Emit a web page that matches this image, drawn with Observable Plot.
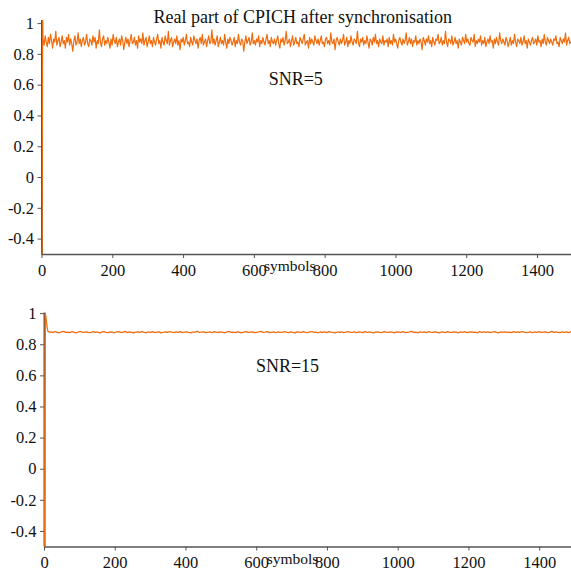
<!DOCTYPE html>
<html><head><meta charset="utf-8">
<script src="https://cdn.jsdelivr.net/npm/d3@7"></script>
<script src="https://cdn.jsdelivr.net/npm/@observablehq/plot@0.6"></script>
<style>
body{margin:0;background:#fff;}
#wrap{width:571px;}
#wrap svg{display:block;}
</style></head><body><div id="wrap"></div>
<script>
const title = "Real part of CPICH after synchronisation";
const xLabel = "symbols";
const snrLabels = ["SNR=5", "SNR=15"];
const xTicks = [0, 200, 400, 600, 800, 1000, 1200, 1400];
const yTicks = [-0.4, -0.2, 0, 0.2, 0.4, 0.6, 0.8, 1];

// SNR=5: start-up transient (symbol, value), then samples every 3 symbols from symbol 3
const transientTopX = [0, 1, 2];
const transientTopY = [-0.9, 0.2, 1.03];
const noiseTopStep = 3;
const noiseTop = [
.90,.86,.92,.88,.85,.91,.87,.93,.89,.84,.90,.88,.95,.86,.89,.91,.85,.88,.92,.87,
.89,.84,.91,.88,.93,.86,.90,.87,.82,.89,.92,.86,.88,.94,.87,.90,.85,.89,.91,.86,
.88,.93,.87,.85,.90,.89,.86,.92,.88,.91,.84,.89,.87,.96,.88,.85,.90,.92,.86,.89,
.87,.91,.88,.84,.90,.86,.93,.89,.87,.91,.85,.88,.90,.86,.92,.89,.83,.88,.91,.87,
.90,.85,.89,.93,.87,.88,.91,.86,.89,.84,.92,.88,.90,.87,.94,.86,.89,.91,.85,.88,
.92,.87,.89,.85,.91,.88,.86,.90,.93,.87,.89,.84,.91,.88,.86,.92,.89,.87,.95,.86,
.89,.91,.85,.88,.90,.87,.92,.86,.89,.83,.90,.88,.91,.86,.89,.93,.87,.88,.85,.91,
.88,.86,.92,.89,.87,.90,.84,.89,.91,.87,.93,.86,.88,.90,.85,.89,.92,.87,.88,.96,
.87,.90,.86,.89,.92,.85,.88,.91,.87,.89,.86,.93,.88,.84,.90,.87,.91,.89,.86,.88,
.91,.85,.89,.87,.93,.88,.86,.90,.89,.82,.88,.92,.87,.89,.91,.86,.88,.94,.87,.89,
.86,.90,.88,.92,.85,.89,.87,.91,.88,.86,.90,.93,.87,.89,.85,.91,.88,.87,.90,.86,
.89,.92,.87,.84,.90,.88,.91,.86,.89,.95,.87,.88,.90,.85,.89,.92,.86,.88,.91,.87,
.88,.85,.91,.89,.87,.90,.93,.86,.88,.89,.84,.91,.87,.90,.88,.86,.92,.89,.87,.90,
.86,.89,.92,.87,.88,.85,.90,.91,.87,.89,.86,.94,.88,.87,.90,.83,.89,.91,.88,.86,
.90,.87,.89,.93,.86,.88,.91,.85,.89,.87,.92,.88,.86,.90,.89,.87,.95,.88,.85,.90,
.88,.91,.86,.89,.87,.92,.88,.84,.90,.89,.86,.91,.88,.93,.87,.89,.85,.90,.88,.87,
.92,.86,.89,.88,.90,.85,.91,.87,.89,.86,.93,.88,.90,.87,.84,.89,.91,.88,.86,.90,
.87,.89,.94,.86,.88,.91,.87,.90,.85,.89,.88,.92,.86,.89,.87,.90,.88,.83,.91,.89,
.86,.90,.88,.92,.87,.89,.85,.91,.88,.86,.90,.89,.93,.87,.88,.91,.86,.89,.87,.95,
.88,.85,.90,.89,.87,.92,.86,.88,.91,.87,.89,.84,.90,.88,.86,.91,.89,.87,.93,.88,
.90,.87,.86,.91,.89,.88,.93,.85,.89,.87,.90,.88,.92,.86,.89,.87,.91,.85,.88,.90,
.87,.92,.88,.89,.84,.90,.87,.91,.88,.86,.94,.89,.87,.90,.88,.86,.91,.89,.85,.88,
.91,.86,.89,.87,.93,.88,.85,.90,.89,.87,.91,.86,.88,.92,.87,.89,.84,.90,.88,.86,
.89,.91,.87,.88,.90,.86,.92,.88,.89,.85,.90,.87,.93,.88,.86,.91,.89,.87,.90,.88,
.86,.90,.89,.92,.87,.88,.85,.91,.89,.87,.90,.88,.94,.86,.89,.91,.87,.88,.90,.89
];

// SNR=15: transient, then samples every 6 symbols from symbol 18
const transientBotX = [0, 1, 2, 4, 6, 8, 10, 14];
const transientBotY = [-0.9, 0.36, 1.0, 0.98, 0.94, 0.90, 0.885, 0.881];
const noiseBotStart = 18;
const noiseBotStep = 6;
const noiseBot = [
.882,.879,.884,.880,.877,.883,.886,.879,.881,.878,.884,.880,.876,.882,.885,.879,.881,.883,.878,.880,
.884,.879,.882,.876,.881,.885,.880,.878,.883,.881,.877,.882,.884,.879,.880,.886,.878,.882,.880,.877,
.881,.883,.879,.885,.880,.877,.882,.880,.884,.878,.881,.883,.876,.880,.882,.879,.885,.881,.878,.882,
.880,.884,.878,.881,.883,.879,.876,.882,.880,.887,.879,.881,.883,.878,.880,.882,.877,.884,.880,.879,
.883,.880,.877,.882,.885,.879,.881,.878,.883,.880,.876,.882,.884,.879,.881,.883,.878,.880,.882,.886,
.879,.881,.884,.878,.880,.882,.877,.883,.880,.879,.885,.881,.878,.882,.880,.876,.883,.881,.879,.884,
.880,.878,.882,.885,.879,.881,.877,.883,.880,.882,.878,.884,.881,.879,.876,.882,.880,.883,.878,.881,
.885,.879,.880,.882,.877,.883,.881,.878,.884,.880,.882,.879,.876,.881,.883,.880,.878,.885,.881,.879,
.882,.880,.877,.883,.881,.879,.884,.878,.880,.882,.886,.879,.881,.877,.883,.880,.882,.878,.884,.881,
.879,.883,.880,.876,.882,.881,.878,.885,.880,.879,.883,.881,.877,.882,.880,.884,.878,.881,.883,.879,
.881,.877,.884,.880,.882,.879,.883,.878,.881,.885,.880,.877,.882,.880,.883,.879,.881,.878,.884,.880,
.882,.879,.885,.881,.878,.880,.883,.877,.882,.880,.884,.879,.881,.883,.878,.880,.886,.879,.882,.880,
.878,.883,.880,.882,.877,.884,.881,.879,.880,.883
];

const orange = "#f06c0c";
const axisColor = "#555";
const font = "Liberation Serif, serif";

const topData = transientTopX.map((x, i) => ({x, y: transientTopY[i]}))
  .concat(noiseTop.map((y, i) => ({x: noiseTopStep * (i + 1), y})));
const botData = transientBotX.map((x, i) => ({x, y: transientBotY[i]}))
  .concat(noiseBot.map((y, i) => ({x: noiseBotStart + noiseBotStep * i, y})));

function panel(o) {
  const num = {fontSize: 16.5, fontFamily: font, fill: "#111", lineAnchor: "middle"};
  const txt = {...num, fontSize: 18};
  const marks = [
    Plot.axisX({ticks: xTicks, tickSize: 4, tickFormat: () => "", label: null, stroke: axisColor}),
    Plot.axisY({ticks: yTicks, tickSize: 4, tickFormat: () => "", label: null, stroke: axisColor}),
    Plot.text(xTicks, {...num, x: d => d, text: d => String(d), frameAnchor: "bottom", dy: o.xLabDy}),
    Plot.text(yTicks, {...num, y: d => d, text: d => String(d), frameAnchor: "left", textAnchor: "end", dx: -8}),
    Plot.ruleY([o.yDomain[0]], {stroke: axisColor, strokeWidth: 1.3}),
    Plot.ruleX([0], {stroke: axisColor, strokeWidth: 2}),
    Plot.line(o.data, {x: "x", y: "y", stroke: orange, strokeWidth: o.sw, clip: true}),
    Plot.text([o.label], {...txt, frameAnchor: "top", dx: o.labelDx, dy: o.labelDy}),
    Plot.text([xLabel], {...num, fontSize: 15.5, frameAnchor: "bottom", dx: o.symDx, dy: o.symDy})
  ];
  if (o.title) marks.push(Plot.text([o.title], {...txt, frameAnchor: "top", dx: -4, dy: -3}));
  return Plot.plot({
    width: 571, height: o.height,
    marginTop: o.mt, marginBottom: o.mb, marginLeft: o.ml, marginRight: 0,
    style: {color: "#111", background: "#fff"},
    x: {domain: o.xDomain},
    y: {domain: o.yDomain},
    marks
  });
}

const wrap = document.getElementById("wrap");
wrap.appendChild(panel({data: topData, height: 290, mt: 20, mb: 36, ml: 41.5,
  xDomain: [0, 1496], yDomain: [-0.5, 1.02], sw: 1.2, label: snrLabels[0], labelDx: -11, labelDy: 59,
  symDx: -17, symDy: 11.5, xLabDy: 16.5, title}));
wrap.appendChild(panel({data: botData, height: 287, mt: 22.5, mb: 30.5, ml: 44,
  xDomain: [0, 1490], yDomain: [-0.5, 1.004], sw: 1.3, label: snrLabels[1], labelDx: -20.5, labelDy: 53.5,
  symDx: -15.5, symDy: 12.5, xLabDy: 16}));
</script></body></html>
